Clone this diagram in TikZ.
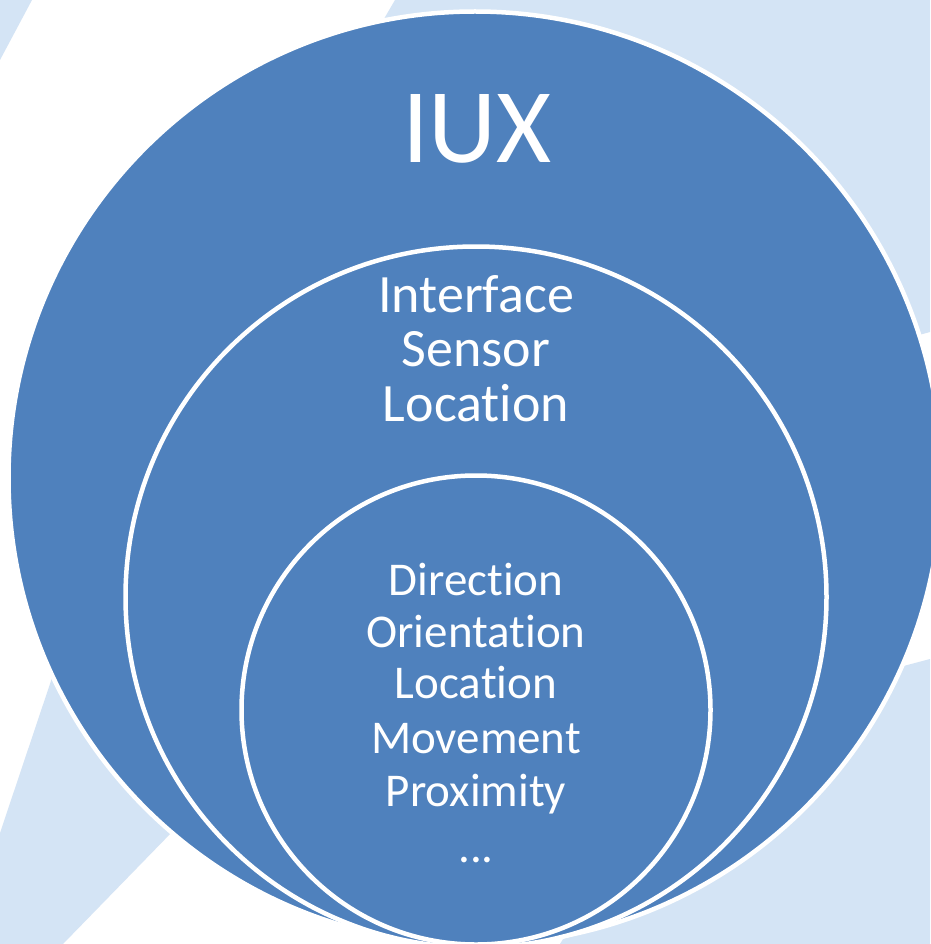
\documentclass[tikz,border=0pt]{standalone}
\usepackage{fontspec}
\setmainfont{Carlito}[Ligatures={NoCommon}]
\definecolor{ringblue}{RGB}{79,129,189}
\definecolor{washblue}{RGB}{212,228,245}
\begin{document}
\begin{tikzpicture}[x=1pt,y=-1pt,
  ring/.style={circle, draw=white, line width=4.5pt, fill=ringblue, inner sep=0pt, outer sep=0pt},
  wash/.style={fill=washblue, draw=none},
  txt/.style={text=white, inner sep=0pt, anchor=base},
  big/.style={txt, font=\fontsize{106}{106}\selectfont},
  mid/.style={txt, font=\fontsize{54}{54}\selectfont},
  small/.style={txt, font=\fontsize{47}{47}\selectfont}]
\useasboundingbox (0,0) rectangle (930,944);
\fill[white] (0,0) rectangle (930,944);

% pale background swooshes
\fill[wash] (0,0) -- (32,0) -- (0,60) -- cycle;
\fill[wash] (395,0) -- (930,0) -- (930,332) -- (700,395) -- (360,60) -- cycle;
\fill[wash] (930,659) -- (930,944) -- (560,944) -- (700,720) -- cycle;
\fill[wash] (0,833) -- (58,660) -- (210,793) -- (63,944) -- (0,944) -- cycle;

% stacked rings, bottom-aligned
\node[ring, minimum size=933pt] (outer)  at (475,478) {};
\node[ring, minimum size=701pt] (middle) at (476,597) {};
\node[ring, minimum size=469pt] (inner)  at (476,710) {};

% outer ring title
\node[big] (iux) at (477,163) {IUX};

% middle ring items
\node[mid] (interface) at (476,312)   {Interface};
\node[mid] (sensor)    at (476,366.5) {Sensor};
\node[mid] (location)  at (476,421.5) {Location};

% inner ring items
\node[small] (direction)   at (476,595) {Direction};
\node[small] (orientation) at (476,647) {Orientation};
\node[small] (place)       at (476,698.5) {Location};
\node[small] (movement)    at (476,753) {Movement};
\node[small] (proximity)   at (476,806.5) {Proximity};
\node[small] (more)        at (476,862) {...};
\end{tikzpicture}
\end{document}
